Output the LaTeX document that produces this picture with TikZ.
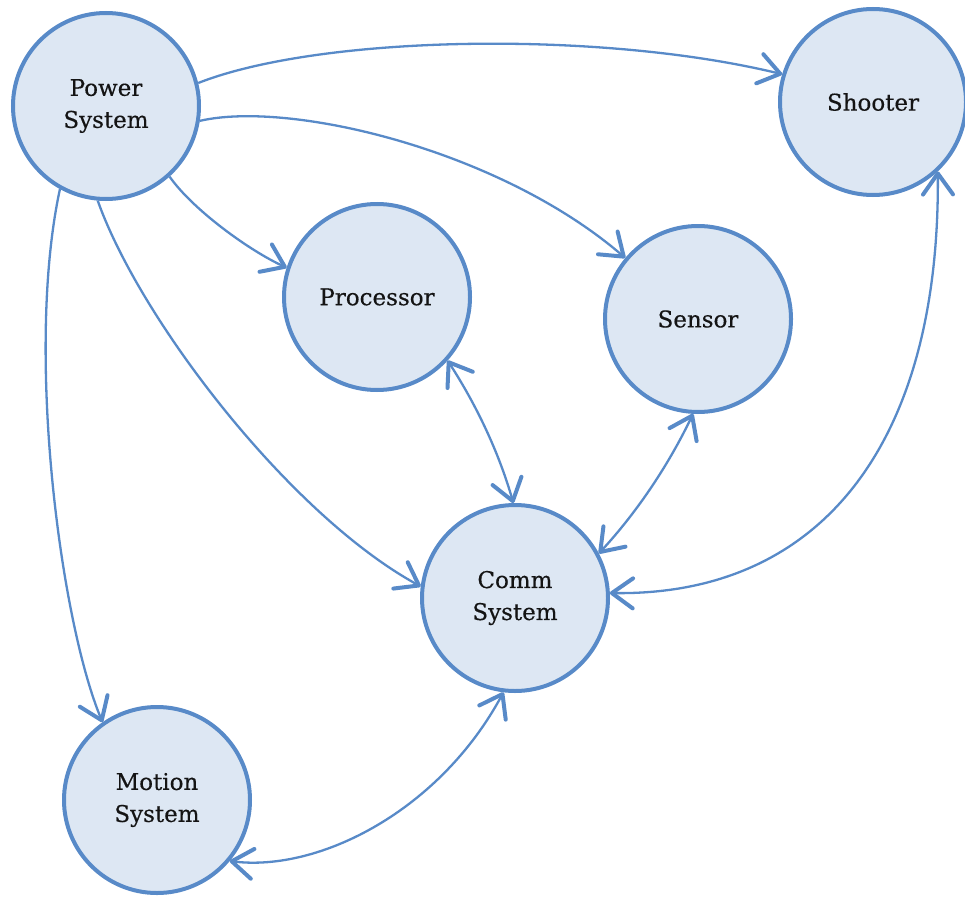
\documentclass[tikz,border=0pt]{standalone}
\usepackage{fontspec}
\setmainfont{DejaVu Serif}
\newfontfamily\labelfont{DejaVu Serif}[FakeBold=0.4]
\usetikzlibrary{arrows.meta}
\definecolor{edgeblue}{RGB}{88,138,200}
\definecolor{fillblue}{RGB}{221,231,243}
\definecolor{labeltext}{RGB}{20,20,20}
\begin{document}
\begin{tikzpicture}[x=1pt,y=-1pt,
  >={Straight Barb[length=21pt,width=30pt,line width=4pt,round]},
  unit/.style={circle, draw=edgeblue, fill=fillblue, line width=4pt,
    minimum size=186pt, inner sep=0pt, align=center,
    font=\labelfont\fontsize{23}{32}\selectfont, text=labeltext},
  link/.style={draw=edgeblue, line width=2.3pt, ->},
  duplex/.style={draw=edgeblue, line width=2.3pt, <->}]
\useasboundingbox (0,0) rectangle (965,896);

% subsystems
\node[unit] (pw) at (106,106) {Power\\System};
\node[unit] (sh) at (873,102) {Shooter};
\node[unit] (pr) at (377,297) {Processor};
\node[unit] (se) at (698,319) {Sensor};
\node[unit] (cm) at (515,598) {Comm\\System};
\node[unit] (mo) at (157,800) {Motion\\System};

% power distribution
\draw[link] (pw.14) .. controls (320,35) and (600,30) .. (sh.163);
\draw[link] (pw.-9) .. controls (290,100) and (500,150) .. (se.140);
\draw[link] (pw.-48) .. controls (193,210) and (250,251) .. (pr.162);
\draw[link] (pw.-95) .. controls (140,320) and (290,515) .. (cm.173);
\draw[link] (pw.-119) .. controls (25,350) and (60,620) .. (mo.125);

% communication links
\draw[duplex] (pr.-42) .. controls (477,406) and (499,453) .. (cm.91);
\draw[duplex] (se.-93) .. controls (669,464) and (638,511) .. (cm.28);
\draw[duplex] (sh.-47) .. controls (940,445) and (820,596) .. (cm.3);
\draw[duplex] (cm.-97) .. controls (440,810) and (320,872) .. (mo.-40);
\end{tikzpicture}
\end{document}
